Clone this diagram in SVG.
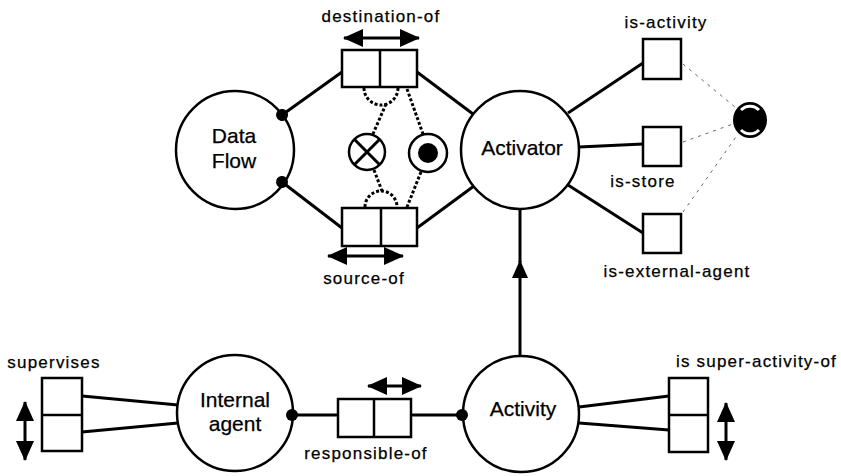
<svg xmlns="http://www.w3.org/2000/svg" width="841" height="476" viewBox="0 0 841 476">
  <style>
    .circ { fill: #fff; stroke: #000; stroke-width: 2.5; }
    .box { fill: #fff; stroke: #000; stroke-width: 2.5; }
    .edge { fill: none; stroke: #000; stroke-width: 3; }
    .dotted { fill: none; stroke: #000; stroke-width: 3; stroke-dasharray: 3 2; }
    .faint { fill: none; stroke: #666; stroke-width: 1; stroke-dasharray: 3 5; }
    .dbl { fill: none; stroke: #000; stroke-width: 3; marker-start: url(#head); marker-end: url(#head); }
    text { font-family: "Liberation Sans", Arial, Helvetica, sans-serif; fill: #000; stroke: #000; stroke-width: 0.25; }
    .name { font-size: 21px; text-anchor: middle; }
    .rel { font-size: 17px; letter-spacing: 1.2px; }
    .mid { text-anchor: middle; }
  </style>
  <defs>
    <marker id="head" markerUnits="userSpaceOnUse" viewBox="0 0 20 18" markerWidth="20" markerHeight="18" refX="19" refY="9" orient="auto-start-reverse">
      <path d="M0,0 L20,9 L0,18 z" fill="#000"/>
    </marker>
    <marker id="up" markerUnits="userSpaceOnUse" viewBox="0 0 18 16" markerWidth="18" markerHeight="16" refX="17" refY="8" orient="auto">
      <path d="M0,0 L18,8 L0,16 z" fill="#000"/>
    </marker>
    <marker id="dot" markerUnits="userSpaceOnUse" viewBox="0 0 14 14" markerWidth="14" markerHeight="14" refX="7" refY="7" orient="auto">
      <circle cx="7" cy="7" r="6" fill="#000"/>
    </marker>
  </defs>

  <rect width="841" height="476" fill="#fff"/>

  <!-- entity nodes -->
  <g id="data-flow">
    <circle class="circ" cx="235" cy="150" r="59"/>
    <text class="name" x="234" y="143">Data</text>
    <text class="name" x="234" y="168">Flow</text>
  </g>
  <g id="activator">
    <circle class="circ" cx="520" cy="150" r="59"/>
    <text class="name" x="522" y="155">Activator</text>
  </g>
  <g id="internal-agent">
    <circle class="circ" cx="235" cy="413" r="58"/>
    <text class="name" x="235" y="407">Internal</text>
    <text class="name" x="235" y="431">agent</text>
  </g>
  <g id="activity">
    <circle class="circ" cx="521" cy="414" r="58"/>
    <text class="name" x="523" y="416">Activity</text>
  </g>

  <!-- relationship nodes -->
  <g id="destination-of">
    <rect class="box" x="342" y="50" width="75" height="37"/>
    <line class="box" x1="380" y1="50" x2="380" y2="87"/>
    <line class="dbl" x1="344" y1="38" x2="419" y2="38"/>
    <text class="rel mid" x="381" y="22">destination-of</text>
  </g>
  <g id="source-of">
    <rect class="box" x="342" y="208" width="75" height="38"/>
    <line class="box" x1="381" y1="208" x2="381" y2="246"/>
    <line class="dbl" x1="328" y1="256" x2="403" y2="256"/>
    <text class="rel mid" x="364" y="284">source-of</text>
  </g>
  <g id="responsible-of">
    <rect class="box" x="338" y="399" width="73" height="38"/>
    <line class="box" x1="374" y1="399" x2="374" y2="437"/>
    <line class="dbl" x1="368" y1="386" x2="421" y2="386"/>
    <text class="rel mid" x="366" y="459">responsible-of</text>
  </g>
  <g id="supervises">
    <rect class="box" x="42" y="378" width="40" height="73"/>
    <line class="box" x1="42" y1="415" x2="82" y2="415"/>
    <line class="dbl" x1="25" y1="402" x2="25" y2="460"/>
    <text class="rel mid" x="54" y="368">supervises</text>
  </g>
  <g id="is-super-activity-of">
    <rect class="box" x="669" y="378" width="39" height="74"/>
    <line class="box" x1="669" y1="415" x2="708" y2="415"/>
    <line class="dbl" x1="726" y1="403" x2="726" y2="460"/>
    <text class="rel" x="676" y="367">is super-activity-of</text>
  </g>
  <g id="is-activity">
    <rect class="box" x="643" y="39" width="38" height="40"/>
    <text class="rel mid" x="666" y="28">is-activity</text>
  </g>
  <g id="is-store">
    <rect class="box" x="643" y="127" width="38" height="39"/>
    <text class="rel mid" x="643" y="187">is-store</text>
  </g>
  <g id="is-external-agent">
    <rect class="box" x="643" y="214" width="38" height="39"/>
    <text class="rel mid" x="677" y="277">is-external-agent</text>
  </g>

  <!-- constraint symbols -->
  <g id="exclusion">
    <circle class="circ" cx="367" cy="152" r="18" stroke-width="3"/>
    <path d="M354.3,139.3 L379.7,164.7 M379.7,139.3 L354.3,164.7" stroke="#000" stroke-width="3"/>
  </g>
  <g id="subset">
    <circle class="circ" cx="428" cy="153" r="19" stroke-width="3"/>
    <circle cx="428" cy="153" r="10" fill="#000"/>
  </g>
  <g id="partition">
    <ellipse cx="750" cy="120" rx="17" ry="18" fill="#000"/>
    <path d="M741,110 A12.5,12.5 0 0 1 759,110 M759,130 A12.5,12.5 0 0 1 741,130" fill="none" stroke="#fff" stroke-width="3"/>
  </g>

  <!-- connectors -->
  <g id="connectors">
    <path class="edge" d="M342,72 L282,115" marker-end="url(#dot)"/>
    <path class="edge" d="M417,72 L473,114"/>
    <path class="edge" d="M342,228 L282,182" marker-end="url(#dot)"/>
    <path class="edge" d="M417,228 L474,186"/>

    <path class="edge" d="M568,113 L643,63"/>
    <path class="edge" d="M579,147 L643,144"/>
    <path class="edge" d="M568,185 L643,233"/>

    <path class="edge" d="M520,356 L520,261" marker-end="url(#up)"/>
    <path class="edge" d="M520,262 L520,209"/>

    <path class="edge" d="M338,415 L292,415" marker-end="url(#dot)"/>
    <path class="edge" d="M411,415 L462,415" marker-end="url(#dot)"/>

    <path class="edge" d="M82,396 L178,405"/>
    <path class="edge" d="M82,432 L178,423"/>
    <path class="edge" d="M669,396 L579,407"/>
    <path class="edge" d="M669,430 L579,423"/>

    <!-- constraint links -->
    <path class="dotted" d="M364,88 A17,17 0 0 0 398,88"/>
    <path class="dotted" d="M386,104 L373,134"/>
    <path class="dotted" d="M407,89 L423,134"/>
    <path class="dotted" d="M365,207 A16,16 0 0 1 397,207"/>
    <path class="dotted" d="M374,170 L382,191"/>
    <path class="dotted" d="M421,172 L407,207"/>

    <path class="faint" d="M683,64 L735,107"/>
    <path class="faint" d="M683,142 L733,124"/>
    <path class="faint" d="M683,212 L736,137"/>
  </g>
</svg>
